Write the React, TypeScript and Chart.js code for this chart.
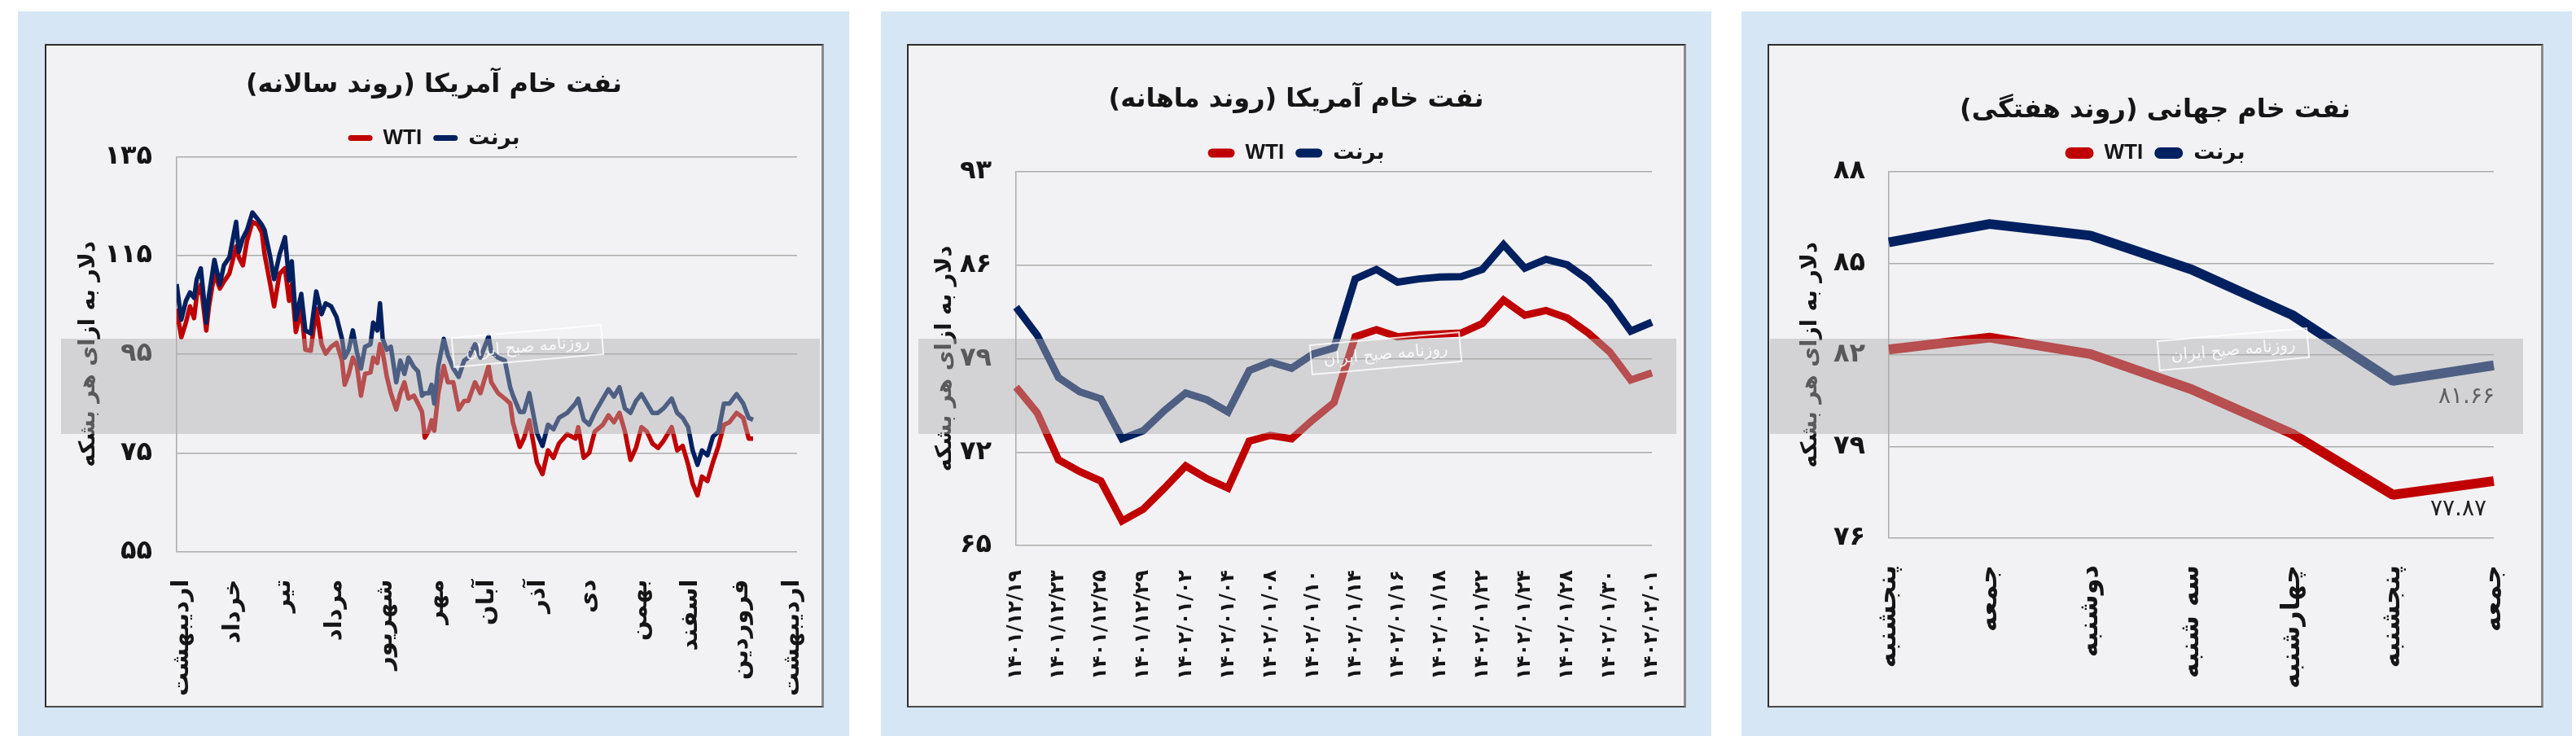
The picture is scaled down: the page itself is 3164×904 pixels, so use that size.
import React, { useEffect, useRef } from 'react';
import { Chart, registerables } from 'chart.js';

Chart.register(...registerables);

const FA_DIGITS = '۰۱۲۳۴۵۶۷۸۹';
const toFa = (s: string | number) => String(s).replace(/[0-9]/g, (d) => FA_DIGITS[+d]);
const rtl = (s: string) => '\u202B' + s + '\u202C';

const PERSIAN = "'DejaVu Sans', sans-serif";
const NARROW = "'Liberation Sans Narrow', 'Liberation Sans', 'DejaVu Sans', sans-serif";
const RED = '#c00000';
const BLUE = '#002060';
const GRID = '#ababab';
const TEXT = '#151515';
const Y_TITLE = 'دلار به ازای هر بشکه';
const SERIES_NAMES = ['WTI', 'برنت'];
const STAMP = 'روزنامه صبح ایران';

// ---------- Panel 1: yearly trend ----------
const yearTitle = 'نفت خام آمریکا (روند سالانه)';
const yearMonths = ['اردیبهشت', 'خرداد', 'تیر', 'مرداد', 'شهریور', 'مهر', 'آبان', 'آذر', 'دی', 'بهمن', 'اسفند', 'فروردین', 'اردیبهشت'];
const yearX = [
  -0.11, -0.018, 0.073, 0.153, 0.233, 0.286, 0.366, 0.473, 0.526, 0.633, 0.74, 0.82, 0.927,
  1.06, 1.113, 1.193, 1.273, 1.38, 1.487, 1.567, 1.62, 1.727, 1.807, 1.914, 2.021, 2.101,
  2.154, 2.234, 2.341, 2.421, 2.528, 2.635, 2.741, 2.821, 2.928, 3.035, 3.142, 3.195, 3.275,
  3.355, 3.435, 3.515, 3.595, 3.702, 3.755, 3.836, 3.889, 3.942, 4.022, 4.102, 4.209, 4.289,
  4.369, 4.449, 4.556, 4.636, 4.716, 4.77, 4.85, 4.903, 4.956, 5.036, 5.143, 5.223, 5.33,
  5.437, 5.544, 5.624, 5.757, 5.864, 6.024, 6.077, 6.211, 6.344, 6.451, 6.504, 6.638, 6.718,
  6.825, 6.975, 7.084, 7.192, 7.3, 7.408, 7.57, 7.732, 7.787, 7.895, 8.003, 8.111, 8.273,
  8.381, 8.489, 8.598, 8.706, 8.814, 8.922, 9.03, 9.138, 9.246, 9.355, 9.463, 9.625, 9.733,
  9.841, 9.949, 10.036, 10.133, 10.22, 10.328, 10.436, 10.544, 10.652, 10.76, 10.901, 11.031,
  11.139, 11.225,
];
const yearBrent = [
  109.2, 102.0, 105.8, 107.5, 106.4, 110.2, 112.4, 101.4, 106.9, 114.1, 109.1, 113.0, 114.6,
  121.8, 115.7, 118.5, 120.1, 123.7, 122.3, 121.2, 120.1, 114.9, 110.2, 115.2, 118.7, 109.9,
  113.8, 102.0, 107.2, 99.8, 99.2, 107.7, 103.1, 105.3, 104.7, 102.5, 98.1, 94.3, 95.9,
  99.8, 95.4, 92.1, 96.5, 97.0, 101.4, 99.8, 105.3, 98.1, 95.9, 96.5, 89.3, 93.7,
  91.0, 94.3, 92.4, 91.5, 86.6, 87.1, 87.1, 88.8, 85.0, 92.6, 98.1, 94.8, 92.1,
  90.4, 93.7, 94.3, 97.0, 94.3, 98.6, 95.4, 94.3, 93.7, 88.2, 86.6, 83.3, 83.3,
  87.1, 79.0, 76.4, 80.7, 79.8, 82.1, 83.1, 85.0, 86.0, 81.7, 80.7, 83.1, 86.0,
  87.9, 86.4, 88.3, 84.0, 83.1, 85.5, 86.9, 85.0, 83.1, 83.1, 84.0, 86.0, 83.1,
  82.1, 80.2, 75.5, 72.6, 75.5, 74.5, 78.3, 79.3, 85.0, 85.0, 86.9, 85.0,
  82.1, 81.7,
];
const yearWTI = [
  104.2, 98.4, 101.4, 104.7, 102.3, 106.9, 109.1, 99.8, 104.7, 111.3, 108.3, 109.7, 111.3,
  116.8, 114.6, 113.0, 117.9, 121.8, 121.2, 119.6, 115.2, 109.4, 104.7, 111.3, 112.4, 105.8,
  109.1, 99.5, 104.2, 95.9, 95.7, 104.2, 97.0, 95.1, 96.5, 97.3, 93.7, 88.8, 91.0,
  94.3, 92.6, 86.6, 91.0, 91.3, 94.3, 93.2, 97.0, 95.4, 90.5, 87.1, 83.8, 87.1,
  89.3, 86.0, 86.6, 85.0, 83.3, 78.1, 79.5, 81.6, 79.5, 87.1, 92.6, 89.3, 89.3,
  83.8, 85.5, 85.5, 89.3, 87.1, 92.6, 89.3, 87.1, 86.0, 85.0, 81.1, 76.2, 77.9,
  81.6, 73.0, 70.7, 75.5, 74.0, 76.9, 78.8, 77.9, 80.2, 74.0, 75.0, 79.3, 80.7,
  82.6, 81.2, 83.1, 79.3, 73.6, 76.0, 80.2, 79.3, 76.9, 76.0, 77.4, 80.2, 75.5,
  76.4, 72.6, 68.8, 66.4, 70.2, 69.3, 73.1, 76.4, 80.7, 81.2, 83.1, 82.1,
  77.9, 77.9,
];
const yearYMin = 55;
const yearYMax = 135;
const yearYStep = 20;

// ---------- Panel 2: monthly trend ----------
const monthTitle = 'نفت خام آمریکا (روند ماهانه)';
const monthDates = [
  '1401/12/19', '1401/12/22', '1401/12/23', '1401/12/24', '1401/12/25', '1401/12/26', '1401/12/29',
  '1402/01/01', '1402/01/02', '1402/01/03', '1402/01/04', '1402/01/07', '1402/01/08', '1402/01/09',
  '1402/01/10', '1402/01/11', '1402/01/14', '1402/01/15', '1402/01/16', '1402/01/17', '1402/01/18',
  '1402/01/21', '1402/01/22', '1402/01/23', '1402/01/24', '1402/01/25', '1402/01/28', '1402/01/29',
  '1402/01/30', '1402/01/31', '1402/02/01',
];
const monthBrent = [
  82.86, 80.75, 77.58, 76.52, 75.99, 73.0, 73.6, 75.11, 76.42, 75.92, 75.01, 78.11, 78.74, 78.28,
  79.34, 79.8, 84.97, 85.68, 84.73, 84.97, 85.11, 85.15, 85.68, 87.54, 85.78, 86.45, 86.03, 84.9,
  83.28, 81.06, 81.73,
];
const monthWTI = [
  76.87, 74.94, 71.42, 70.54, 69.83, 66.84, 67.72, 69.3, 70.96, 70.01, 69.3, 72.82, 73.25, 73.0,
  74.41, 75.71, 80.64, 81.17, 80.64, 80.78, 80.85, 80.92, 81.63, 83.39, 82.26, 82.61, 82.05, 80.92,
  79.51, 77.4, 77.93,
];
const monthYMin = 65;
const monthYMax = 93;
const monthYStep = 7;

// ---------- Panel 3: weekly trend ----------
const weekTitle = 'نفت خام جهانی (روند هفتگی)';
const weekDays = ['پنجشنبه', 'جمعه', 'دوشنبه', 'سه شنبه', 'چهارشنبه', 'پنجشنبه', 'جمعه'];
const weekBrent = [85.69, 86.29, 85.91, 84.8, 83.31, 81.15, 81.66];
const weekWTI = [82.18, 82.57, 82.03, 80.88, 79.42, 77.42, 77.87];
const weekYMin = 76;
const weekYMax = 88;
const weekYStep = 3;

type Layout = {
  x: number; y: number; w: number; h: number;
  titleY: number; legendY: number; boxW: number; boxH: number;
  plotL: number; plotR: number; plotT: number; plotB: number;
  yTitleX: number; yPad: number; xPad: number; xFont: number; lineWidth: number;
  band: [number, number]; stamp: [number, number];
};

const TITLE_SIZE = 32;
const LEGEND_SIZE = 26;
const YTICK_SIZE = 32;
const YTITLE_SIZE = 27;

const endLabels = {
  id: 'endLabels',
  afterDatasetsDraw(chart: any, _args: any, opts: any) {
    if (!opts || !opts.show) return;
    const ctx = chart.ctx;
    chart.data.datasets.forEach((ds: any, i: number) => {
      const meta = chart.getDatasetMeta(i);
      const pt = meta.data[meta.data.length - 1];
      const v = ds.data[ds.data.length - 1];
      const off = opts.offsets[i];
      ctx.save();
      ctx.font = `28px ${PERSIAN}`;
      ctx.fillStyle = '#222';
      ctx.textAlign = 'right';
      ctx.textBaseline = 'middle';
      ctx.fillText(toFa(Number(v).toFixed(2)), pt.x + off[0], pt.y + off[1]);
      ctx.restore();
    });
  },
};

function makeConfig(L: Layout, title: string, datasets: any[], labels: any, xScale: any, yMin: number, yMax: number, yStep: number, endOpts: any) {
  const titleLH = TITLE_SIZE * 1.2;
  return {
    type: 'line',
    data: { labels, datasets },
    plugins: [endLabels],
    options: {
      responsive: false,
      animation: false,
      layout: { padding: 0 },
      elements: { point: { radius: 0 } },
      plugins: {
        tooltip: { enabled: false },
        endLabels: endOpts,
        title: {
          display: true,
          text: rtl(title),
          color: TEXT,
          font: { family: PERSIAN, size: TITLE_SIZE, weight: 'bold' },
          padding: { top: L.titleY - titleLH / 2, bottom: L.legendY - 14 - LEGEND_SIZE / 2 - L.titleY - titleLH / 2 },
        },
        legend: {
          display: true,
          position: 'top',
          labels: {
            color: TEXT,
            font: { family: NARROW, size: LEGEND_SIZE, weight: 'bold' },
            boxWidth: L.boxW,
            boxHeight: L.boxH,
            useBorderRadius: true,
            borderRadius: L.boxH / 2,
            padding: 14,
            sort: (a: any, b: any) => a.datasetIndex - b.datasetIndex,
            generateLabels: (chart: any) =>
              (Chart.defaults.plugins.legend.labels.generateLabels as any)(chart).map((it: any) => ({
                ...it,
                lineWidth: 0,
              })),
          },
        },
      },
      scales: {
        x: {
          ...xScale,
          grid: { display: false },
          border: { display: false },
          ticks: {
            ...(xScale.ticks || {}),
            autoSkip: false,
            minRotation: 90,
            maxRotation: 90,
            padding: L.xPad,
            color: TEXT,
            font: { family: PERSIAN, size: L.xFont, weight: 'bold' },
          },
          afterFit: (s: any) => {
            s.height = L.h - L.plotB;
            s.paddingLeft = 0;
            s.paddingRight = L.w - L.plotR;
          },
        },
        y: {
          min: yMin,
          max: yMax,
          ticks: {
            stepSize: yStep,
            padding: L.yPad,
            color: TEXT,
            font: { family: PERSIAN, size: YTICK_SIZE, weight: 'bold' },
            callback: (v: any) => toFa(v),
          },
          grid: { color: GRID, lineWidth: 1.5, drawTicks: false },
          border: { display: true, color: GRID, width: 1.5 },
          title: {
            display: true,
            text: Y_TITLE,
            color: TEXT,
            font: { family: PERSIAN, size: YTITLE_SIZE, weight: 'bold' },
            padding: { top: L.yTitleX - (YTITLE_SIZE * 1.2) / 2, bottom: 0 },
          },
          afterFit: (s: any) => {
            s.width = L.plotL;
            s.paddingTop = L.plotT;
          },
        },
      },
    },
  };
}

function makeDatasets(wti: any[], brent: any[], lw: number, join: string) {
  return [
    { label: SERIES_NAMES[0], data: wti, borderColor: RED, backgroundColor: RED, borderWidth: lw, tension: 0, order: 1, borderJoinStyle: join },
    { label: SERIES_NAMES[1], data: brent, borderColor: BLUE, backgroundColor: BLUE, borderWidth: lw, tension: 0, order: 0, borderJoinStyle: join },
  ];
}

const L1: Layout = {
  x: 57, y: 56, w: 952, h: 811, titleY: 47, legendY: 112, boxW: 30, boxH: 7,
  plotL: 160, plotR: 922, plotT: 136.5, plotB: 621.5, yTitleX: 52, yPad: 30, xPad: 26, xFont: 29, lineWidth: 5.5,
  band: [75, 1007], stamp: [555, 406],
};
const L2: Layout = {
  x: 1116, y: 56, w: 952, h: 811, titleY: 47, legendY: 112, boxW: 33, boxH: 11,
  plotL: 132, plotR: 913, plotT: 155, plotB: 614, yTitleX: 45, yPad: 30, xPad: 22, xFont: 24, lineWidth: 9,
  band: [1128, 2059], stamp: [1609, 415],
};
const L3: Layout = {
  x: 2173, y: 56, w: 948, h: 811, titleY: 70, legendY: 122, boxW: 35, boxH: 14,
  plotL: 147, plotR: 890, plotT: 155, plotB: 605, yTitleX: 51, yPad: 29, xPad: 25, xFont: 32, lineWidth: 12,
  band: [2174, 3099], stamp: [2650, 410],
};

function buildYear() {
  const wti = yearX.map((x, i) => ({ x, y: yearWTI[i] }));
  const brent = yearX.map((x, i) => ({ x, y: yearBrent[i] }));
  const xScale = {
    type: 'linear',
    min: -0.109,
    max: 12.09,
    afterBuildTicks: (s: any) => {
      s.ticks = yearMonths.map((_, i) => ({ value: i }));
    },
    ticks: { callback: (v: any) => yearMonths[Math.round(v)] ?? '' },
  };
  return makeConfig(L1, yearTitle, makeDatasets(wti, brent, L1.lineWidth, 'round'), undefined, xScale, yearYMin, yearYMax, yearYStep, { show: false });
}

function buildMonth() {
  const xScale = {
    type: 'category',
    offset: false,
    ticks: { callback: (_v: any, i: number) => (i % 2 === 0 ? toFa(monthDates[i]) : '') },
  };
  return makeConfig(L2, monthTitle, makeDatasets(monthWTI, monthBrent, L2.lineWidth, 'miter'), monthDates, xScale, monthYMin, monthYMax, monthYStep, { show: false });
}

function buildWeek() {
  const xScale = {
    type: 'category',
    offset: false,
    ticks: { callback: (_v: any, i: number) => weekDays[i] },
  };
  return makeConfig(L3, weekTitle, makeDatasets(weekWTI, weekBrent, L3.lineWidth, 'bevel'), weekDays, xScale, weekYMin, weekYMax, weekYStep, {
    show: true,
    offsets: [[-9, 35], [1, 39]],
  });
}

function Panel({ L, build, bgLeft, bgWidth, boxLeft, boxWidth }: any) {
  const ref = useRef<HTMLCanvasElement>(null);
  useEffect(() => {
    const chart = new Chart(ref.current as HTMLCanvasElement, build() as any);
    return () => chart.destroy();
  }, []);
  return (
    <>
      <div style={{ position: 'absolute', left: bgLeft, top: 14, width: bgWidth, height: 890, background: '#d6e6f4' }} />
      <div
        style={{
          position: 'absolute', left: boxLeft, top: 54, width: boxWidth, height: 815, boxSizing: 'border-box',
          background: '#f2f2f4', borderLeft: '2px solid #2e2e2e', borderTop: '2px solid #2e2e2e',
          borderRight: '3px solid #8a8a8a', borderBottom: '2px solid #4a4a4a',
        }}
      />
      <canvas ref={ref} width={L.w} height={L.h} style={{ position: 'absolute', left: L.x, top: L.y, width: L.w, height: L.h }} />
      <div style={{ position: 'absolute', left: L.band[0], top: 416, width: L.band[1] - L.band[0], height: 117, background: 'rgba(172,172,175,0.45)', pointerEvents: 'none' }} />
      <div
        style={{
          position: 'absolute', left: L.stamp[0], top: L.stamp[1], width: 186, height: 38, boxSizing: 'border-box',
          border: '2px solid rgba(255,255,255,0.8)', color: 'rgba(255,255,255,0.85)', fontFamily: PERSIAN,
          fontSize: 20, lineHeight: '34px', textAlign: 'center', direction: 'rtl', transform: 'rotate(-5deg)',
          pointerEvents: 'none',
        }}
      >
        {STAMP}
      </div>
    </>
  );
}

export default function App() {
  useEffect(() => {
    document.body.style.margin = '0';
    document.body.style.background = '#ffffff';
  }, []);
  return (
    <div style={{ position: 'relative', width: 3164, height: 904, overflow: 'hidden', background: '#fff' }}>
      <Panel L={L1} build={buildYear} bgLeft={22} bgWidth={1021} boxLeft={55} boxWidth={957} />
      <Panel L={L2} build={buildMonth} bgLeft={1082} bgWidth={1020} boxLeft={1114} boxWidth={957} />
      <Panel L={L3} build={buildWeek} bgLeft={2139} bgWidth={1020} boxLeft={2171} boxWidth={953} />
    </div>
  );
}
